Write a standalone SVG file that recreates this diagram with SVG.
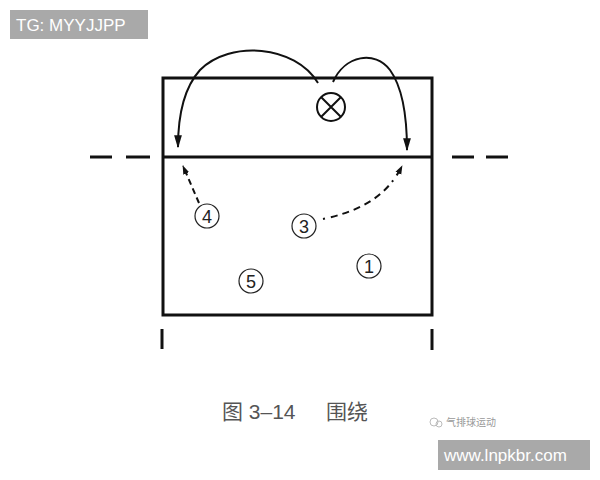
<svg xmlns="http://www.w3.org/2000/svg" width="600" height="480" viewBox="0 0 600 480">
<style>
.ln{stroke:#111;fill:none}
.pl{fill:#fff;stroke:#222;stroke-width:1.2}
.num{font-family:"Liberation Sans",Arial,sans-serif;font-size:18px;fill:#222;text-anchor:middle}
.cap{font-family:"Liberation Sans","Noto Sans CJK SC",sans-serif;font-size:21px;fill:#555}
</style>
<defs>
<marker id="ah" viewBox="0 0 10 10" refX="9" refY="5" markerWidth="9" markerHeight="9" markerUnits="userSpaceOnUse" orient="auto"><path d="M0,1.5 L10,5 L0,8.5 Z" fill="#111"/></marker>
<marker id="ah2" viewBox="0 0 10 10" refX="9" refY="5" markerWidth="13" markerHeight="13" markerUnits="userSpaceOnUse" orient="auto"><path d="M0,2 L10,5 L0,8 Z" fill="#111"/></marker>
</defs>
<rect width="600" height="480" fill="#fff"/>
<g id="tg"><rect x="10" y="10" width="138" height="29" fill="#a9a9a9"/><text x="16" y="31" font-family="Liberation Sans,Arial,sans-serif" font-size="17" fill="#fff">TG: MYYJJPP</text></g>
<g id="court">
<rect x="163" y="78" width="269" height="237" class="ln" stroke-width="3"/>
<line x1="163" y1="157" x2="432" y2="157" class="ln" stroke-width="3"/>
<line x1="90" y1="157" x2="112" y2="157" class="ln" stroke-width="3"/>
<line x1="126" y1="157" x2="150" y2="157" class="ln" stroke-width="3"/>
<line x1="452" y1="157" x2="474" y2="157" class="ln" stroke-width="3"/>
<line x1="486" y1="157" x2="508" y2="157" class="ln" stroke-width="3"/>
<line x1="162" y1="329" x2="162" y2="349" class="ln" stroke-width="3"/>
<line x1="432" y1="329" x2="432" y2="350" class="ln" stroke-width="3"/>
</g>
<g id="setter"><circle cx="331" cy="107" r="14" fill="#fff" stroke="#111" stroke-width="2"/><path d="M321,97 L341,117 M341,97 L321,117" class="ln" stroke-width="2"/></g>
<g id="p4"><circle cx="207" cy="216" r="12" class="pl"/><text x="207" y="222.5" class="num">4</text></g>
<g id="p3"><circle cx="304" cy="226" r="12" class="pl"/><text x="304" y="232.5" class="num">3</text></g>
<g id="p5"><circle cx="251" cy="281" r="12" class="pl"/><text x="251" y="287.5" class="num">5</text></g>
<g id="p1"><circle cx="369" cy="266" r="12" class="pl"/><text x="369" y="272.5" class="num">1</text></g>
<g id="connectors">
<path d="M318,83 C295,45 230,40 200,70 C182,90 178,120 178,147" class="ln" stroke-width="2" marker-end="url(#ah2)"/>
<path d="M333,82 C345,55 375,50 390,70 C403,88 407,120 407,150" class="ln" stroke-width="2" marker-end="url(#ah2)"/>
<path d="M199,203 L183,166" class="ln" stroke-width="2" stroke-dasharray="6,4" marker-end="url(#ah)"/>
<path d="M323,219 C355,212 385,200 402,166" class="ln" stroke-width="2" stroke-dasharray="2,6,7,5,7,5,7,5,7,5,7,5,7,5" marker-end="url(#ah)"/>
</g>
<g id="caption"><text x="222" y="419" class="cap">图 3–14</text><text x="326" y="419" class="cap">围绕</text></g>
<g id="wm"><text x="446" y="426" font-family="'Noto Sans CJK SC',sans-serif" font-size="10" fill="#999">气排球运动</text><circle cx="434" cy="422" r="4" fill="none" stroke="#bbb"/><circle cx="439" cy="424" r="3" fill="none" stroke="#bbb"/></g>
<g id="url"><rect x="438" y="440" width="152" height="30" fill="#a9a9a9"/><text x="444" y="461" font-family="Liberation Sans,Arial,sans-serif" font-size="17" fill="#fff">www.lnpkbr.com</text></g>
</svg>
